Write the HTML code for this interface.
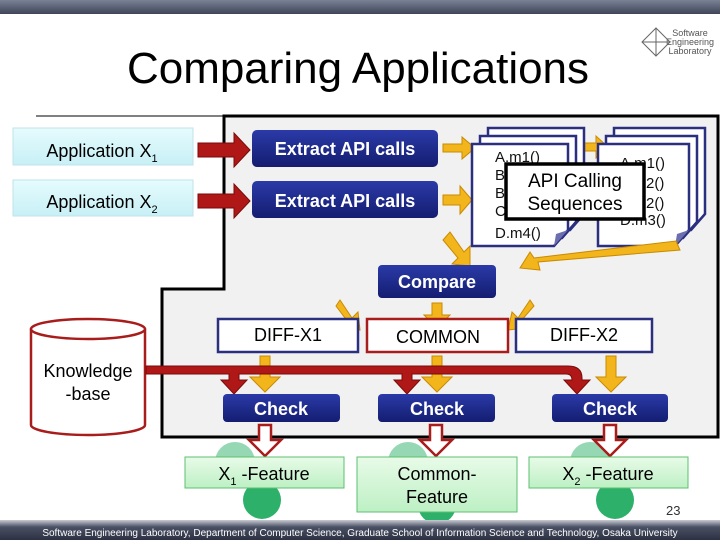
<!DOCTYPE html>
<html><head><meta charset="utf-8"><style>
html,body{margin:0;padding:0;background:#fff}
svg{display:block}
text{font-family:"Liberation Sans",sans-serif}
</style></head><body>
<svg width="720" height="540" viewBox="0 0 720 540" xmlns="http://www.w3.org/2000/svg">
<defs>
<linearGradient id="top" x1="0" y1="0" x2="0" y2="1"><stop offset="0" stop-color="#7a8296"/><stop offset="1" stop-color="#3e4558"/></linearGradient>
<linearGradient id="foot" x1="0" y1="0" x2="0" y2="1"><stop offset="0" stop-color="#c9ccd3"/><stop offset="0.35" stop-color="#4a5064"/><stop offset="1" stop-color="#2c3142"/></linearGradient>
<linearGradient id="navy" x1="0" y1="0" x2="0" y2="1"><stop offset="0" stop-color="#2b3aa8"/><stop offset="1" stop-color="#141d70"/></linearGradient>
<linearGradient id="cyan" x1="0" y1="0" x2="0" y2="1"><stop offset="0" stop-color="#e6fbfd"/><stop offset="1" stop-color="#c7f0f6"/></linearGradient>
<linearGradient id="grn" x1="0" y1="0" x2="0" y2="1"><stop offset="0" stop-color="#e8fbe8"/><stop offset="1" stop-color="#bdf0c4"/></linearGradient>
</defs>
<rect x="0" y="0" width="720" height="14" fill="url(#top)"/>
<text x="690" y="36" font-size="9" fill="#555" text-anchor="middle">Software</text>
<text x="690" y="45" font-size="9" fill="#555" text-anchor="middle">Engineering</text>
<text x="690" y="54" font-size="9" fill="#555" text-anchor="middle">Laboratory</text>
<path d="M656 28 L670 42 L656 56 L642 42 Z M656 28 V56 M642 42 H670" fill="none" stroke="#666" stroke-width="1"/>
<text x="358" y="83" font-size="44" text-anchor="middle" fill="#000" textLength="462" lengthAdjust="spacingAndGlyphs">Comparing Applications</text>
<line x1="36" y1="116" x2="226" y2="116" stroke="#000" stroke-width="1"/>
<!-- panel -->
<path d="M224 116 H718 V437 H162 V289 H224 Z" fill="#f1f1f1" stroke="#000" stroke-width="3"/>
<!-- app boxes -->
<rect x="13" y="128" width="180" height="37" fill="url(#cyan)" stroke="#bfe3ea"/>
<text x="102" y="157" font-size="18" text-anchor="middle">Application X<tspan font-size="11" dy="5">1</tspan></text>
<rect x="13" y="180" width="180" height="36" fill="url(#cyan)" stroke="#bfe3ea"/>
<text x="102" y="208" font-size="18" text-anchor="middle">Application X<tspan font-size="11" dy="5">2</tspan></text>
<!-- red arrows -->
<path d="M198 143 H234 V133 L250 150 L234 167 V157 H198 Z" fill="#b01818" stroke="#7a0a0a"/>
<path d="M198 194 H234 V184 L250 201 L234 218 V208 H198 Z" fill="#b01818" stroke="#7a0a0a"/>
<!-- extract -->
<rect x="252" y="130" width="186" height="37" rx="5" fill="url(#navy)"/>
<text x="345" y="155" font-size="18" font-weight="bold" fill="#fff" text-anchor="middle">Extract API calls</text>
<rect x="252" y="181" width="186" height="37" rx="5" fill="url(#navy)"/>
<text x="345" y="207" font-size="18" font-weight="bold" fill="#fff" text-anchor="middle">Extract API calls</text>
<!-- yellow arrows -->
<g fill="#f2b51c" stroke="#c98a00">
<path d="M443 144 H462 V137 L475 148 L462 159 V152 H443 Z"/>
<path d="M443 195 H460 V186 L472 200 L460 214 V205 H443 Z"/>
<path d="M580 143 H596 V136 L608 147 L596 158 V151 H580 Z"/>
</g>
<!-- doc stacks -->
<g fill="#fff" stroke="#2b2f80" stroke-width="2.5">
<path d="M488 128 H584 V214 L570 230 H488 Z"/>
<path d="M480 136 H576 V222 L562 238 H480 Z"/>
<path d="M472 144 H568 V230 L554 246 H472 Z"/>
<path d="M614 128 H705 V214 L691 230 H614 Z"/>
<path d="M606 136 H697 V222 L683 238 H606 Z"/>
<path d="M598 144 H689 V230 L675 246 H598 Z"/>
</g>
<path d="M554 246 L568 230 L556 234 Z" fill="#6b6fb0"/>
<path d="M675 246 L689 230 L677 234 Z" fill="#6b6fb0"/>
<g font-size="15" fill="#111">
<text x="495" y="162">A.m1()</text><text x="495" y="180">B</text><text x="495" y="198">B</text><text x="495" y="216">C</text><text x="495" y="238">D.m4()</text>
<text x="620" y="168">A.m1()</text><text x="646" y="188">2()</text><text x="646" y="208">2()</text><text x="620" y="225">D.m3()</text>
</g>
<rect x="506" y="164" width="138" height="55" fill="#fff" stroke="#000" stroke-width="3.5"/>
<text x="575" y="187" font-size="19" text-anchor="middle">API Calling</text>
<text x="575" y="210" font-size="19" text-anchor="middle">Sequences</text>
<!-- arrows to compare -->
<g fill="#f2b51c" stroke="#c98a00">
<path d="M450 232 L464 252 L470 246 L470 266 L452 264 L458 258 L443 240 Z"/>
<path d="M676 241 L680 250 L538 262 L540 270 L520 268 L530 252 L534 258 Z"/>
</g>
<rect x="378" y="265" width="118" height="33" rx="4" fill="url(#navy)"/>
<text x="437" y="288" font-size="18" font-weight="bold" fill="#fff" text-anchor="middle">Compare</text>
<g fill="#f2b51c" stroke="#c98a00">
<path d="M340 300 L352 318 L358 312 L360 330 L342 328 L348 322 L336 306 Z"/>
<path d="M432 303 H442 V315 H450 L437 328 L424 315 H432 Z"/>
<path d="M530 300 L518 318 L512 312 L508 330 L526 328 L520 322 L534 306 Z"/>
</g>
<rect x="218" y="319" width="140" height="33" fill="#fff" stroke="#2b2f80" stroke-width="2.5"/>
<text x="288" y="341" font-size="18" text-anchor="middle">DIFF-X1</text>
<rect x="367" y="319" width="141" height="33" fill="#fff" stroke="#a81c1c" stroke-width="2.5"/>
<text x="438" y="343" font-size="18" text-anchor="middle">COMMON</text>
<rect x="516" y="319" width="136" height="33" fill="#fff" stroke="#2b2f80" stroke-width="2.5"/>
<text x="584" y="341" font-size="18" text-anchor="middle">DIFF-X2</text>
<!-- knowledge base -->
<path d="M31 329 V425 A57 10 0 0 0 145 425 V329" fill="#fff" stroke="#a81c1c" stroke-width="2.5"/>
<ellipse cx="88" cy="329" rx="57" ry="10" fill="#fff" stroke="#a81c1c" stroke-width="2.5"/>
<text x="88" y="377" font-size="18" text-anchor="middle">Knowledge</text>
<text x="88" y="400" font-size="18" text-anchor="middle">-base</text>
<!-- yellow down arrows -->
<g fill="#f2b51c" stroke="#c98a00">
<path d="M260 356 H270 V377 H280 L265 392 L250 377 H260 Z"/>
<path d="M432 356 H442 V377 H452 L437 392 L422 377 H432 Z"/>
<path d="M606 356 H616 V377 H626 L611 392 L596 377 H606 Z"/>
</g>
<!-- red pipe -->
<g fill="#b01818" stroke="#7a0a0a" stroke-width="1">
<path d="M146 366 H568 Q582 366 582 378 V380 H590 L577 394 L564 380 H572 V380 Q572 374 566 374 H412 V380 H420 L407 394 L394 380 H402 V374 H239 V380 H247 L234 394 L221 380 H229 V374 H146 Z"/>
</g>
<!-- check boxes -->
<rect x="223" y="394" width="117" height="28" rx="4" fill="url(#navy)"/>
<text x="281" y="415" font-size="18" font-weight="bold" fill="#fff" text-anchor="middle">Check</text>
<rect x="378" y="394" width="117" height="28" rx="4" fill="url(#navy)"/>
<text x="437" y="415" font-size="18" font-weight="bold" fill="#fff" text-anchor="middle">Check</text>
<rect x="552" y="394" width="116" height="28" rx="4" fill="url(#navy)"/>
<text x="610" y="415" font-size="18" font-weight="bold" fill="#fff" text-anchor="middle">Check</text>
<!-- gears -->
<g fill="#2db06a">
<circle cx="235" cy="462" r="20" opacity="0.5"/><circle cx="262" cy="500" r="19"/>
<circle cx="408" cy="462" r="20" opacity="0.5"/><circle cx="437" cy="505" r="19"/>
<circle cx="590" cy="462" r="20" opacity="0.5"/><circle cx="615" cy="500" r="19"/>
</g>
<!-- hollow red arrows -->
<g fill="#fff" stroke="#a81c1c" stroke-width="2.5">
<path d="M259 425 H271 V440 H281 L265 456 L249 440 H259 Z"/>
<path d="M430 425 H442 V440 H452 L436 456 L420 440 H430 Z"/>
<path d="M604 425 H616 V440 H626 L610 456 L594 440 H604 Z"/>
</g>
<!-- features -->
<rect x="185" y="457" width="159" height="31" fill="url(#grn)" stroke="#5cbf70"/>
<text x="264" y="480" font-size="18" text-anchor="middle">X<tspan font-size="11" dy="5">1</tspan><tspan dy="-5"> -Feature</tspan></text>
<rect x="357" y="457" width="160" height="55" fill="url(#grn)" stroke="#5cbf70"/>
<text x="437" y="480" font-size="18" text-anchor="middle">Common-</text>
<text x="437" y="503" font-size="18" text-anchor="middle">Feature</text>
<rect x="529" y="457" width="159" height="31" fill="url(#grn)" stroke="#5cbf70"/>
<text x="608" y="480" font-size="18" text-anchor="middle">X<tspan font-size="11" dy="5">2</tspan><tspan dy="-5"> -Feature</tspan></text>
<text x="666" y="515" font-size="13" fill="#333">23</text>
<rect x="0" y="520" width="720" height="20" fill="url(#foot)"/>
<text x="360" y="536" font-size="10" fill="#fff" text-anchor="middle">Software Engineering Laboratory, Department of Computer Science, Graduate School of Information Science and Technology, Osaka University</text>
</svg>
</body></html>
